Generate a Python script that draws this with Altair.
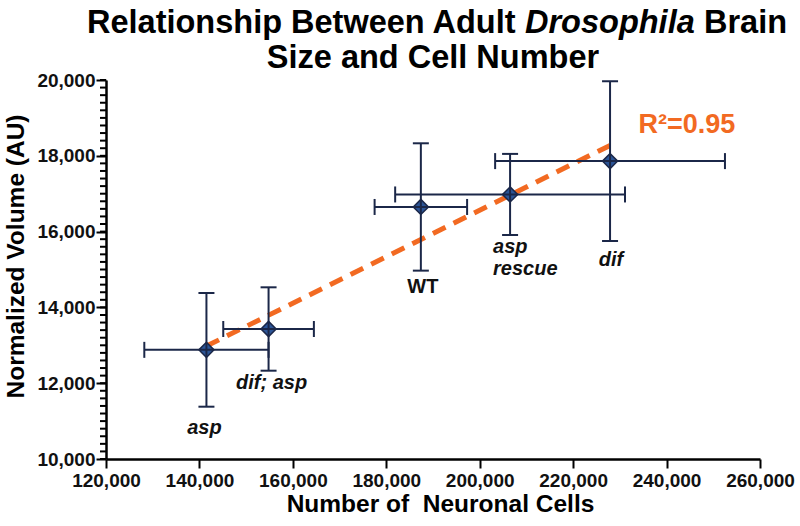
import altair as alt
import pandas as pd

# Genotypes: mean neuronal cell count and normalized brain volume, with error extents
genotypes = ["asp", "dif; asp", "WT", "asp\nrescue", "dif"]
cell_count = [141500, 154800, 187400, 206500, 227900]
cell_err = [13300, 9700, 9900, 24600, 24600]
volume = [12880, 13430, 16650, 16980, 17860]
volume_err = [1500, 1100, 1680, 1070, 2110]

x_ticks = [120000, 140000, 160000, 180000, 200000, 220000, 240000, 260000]
y_ticks = [10000, 12000, 14000, 16000, 18000, 20000]
y_minor_step = 200
r_squared = "R\u00b2=0.95"

FONT = "Liberation Sans"
NAVY = "#1b2748"
FILL = "#2c5597"
ORANGE = "#f26a22"

df = pd.DataFrame({
    "genotype": genotypes,
    "cells": cell_count,
    "cells_lo": [c - e for c, e in zip(cell_count, cell_err)],
    "cells_hi": [c + e for c, e in zip(cell_count, cell_err)],
    "volume": volume,
    "vol_lo": [v - e for v, e in zip(volume, volume_err)],
    "vol_hi": [v + e for v, e in zip(volume, volume_err)],
})
minor_df = pd.DataFrame({"tick": list(range(y_ticks[0], y_ticks[-1] + 1, y_minor_step))})

x_scale = alt.Scale(domain=[120000, 260000], nice=False, zero=False)
y_scale = alt.Scale(domain=[10000, 20000], nice=False, zero=False)

x_axis = alt.Axis(
    values=x_ticks, labelExpr="format(datum.value, ',')",
    title="Number of\u00a0 Neuronal Cells",
    titleX=334, titleY=52, titleAnchor="start", titleAlign="center",
    titleBaseline="alphabetic", tickSize=9, labelPadding=3, labelFlush=False,
    grid=False,
)
y_axis = alt.Axis(
    values=y_ticks, labelExpr="format(datum.value, ',')",
    title="Normalized Volume (AU)", tickSize=10,
    titleX=-90, titleY=176, titleAngle=270, titleAlign="center",
    titleBaseline="middle", labelPadding=1, labelFlush=False, grid=False,
)


# Every layer shares the same scales and axis definitions
def xq(field):
    return alt.X(f"{field}:Q", scale=x_scale, axis=x_axis)


def yq(field):
    return alt.Y(f"{field}:Q", scale=y_scale, axis=y_axis)


base = alt.Chart(df)

# Minor ticks along the volume axis
minor_ticks = alt.Chart(minor_df).mark_tick(
    orient="horizontal", color="#000000", thickness=2, size=6, opacity=1,
).encode(y=yq("tick"), x=alt.value(-3))

# Least-squares fit through the five genotype means
fit = base.mark_line(
    color=ORANGE, strokeWidth=5, strokeDash=[14, 9]
).transform_regression("cells", "volume").encode(x=xq("cells"), y=yq("volume"))

points = base.mark_point(
    shape="diamond", size=230, filled=True, fill=FILL, stroke=NAVY,
    strokeWidth=1.5, opacity=1,
).encode(x=xq("cells"), y=yq("volume"))

h_bars = base.mark_rule(color=NAVY, strokeWidth=2).encode(
    x=xq("cells_lo"), x2="cells_hi:Q", y=yq("volume"),
)
v_bars = base.mark_rule(color=NAVY, strokeWidth=2).encode(
    x=xq("cells"), y=yq("vol_lo"), y2="vol_hi:Q",
)

cap_style = dict(color=NAVY, thickness=2, size=16, opacity=1)
h_caps = [
    base.mark_tick(orient="vertical", **cap_style).encode(x=xq(col), y=yq("volume"))
    for col in ("cells_lo", "cells_hi")
]
v_caps = [
    base.mark_tick(orient="horizontal", **cap_style).encode(x=xq("cells"), y=yq(col))
    for col in ("vol_lo", "vol_hi")
]

# Genotype labels placed beneath each point (pixel offsets, alignment, italic)
label_place = {
    "asp": (-2, 78, "center", True),
    "dif; asp": (3, 54, "center", True),
    "WT": (2, 80, "center", False),
    "asp\nrescue": (-17, 53, "left", True),
    "dif": (1, 99, "center", True),
}
labels = []
for name, (dx, dy, align, italic) in label_place.items():
    labels.append(
        base.transform_filter(alt.datum.genotype == name).mark_text(
            font=FONT, fontSize=20, fontWeight="bold",
            fontStyle="italic" if italic else "normal",
            color="#111111", dx=dx, dy=dy, align=align, baseline="middle",
            lineBreak="\n", lineHeight=22,
        ).encode(x=xq("cells"), y=yq("volume"), text="genotype:N")
    )

r2_label = alt.Chart().mark_text(
    font=FONT, fontSize=27, fontWeight="bold", color=ORANGE,
    align="left", baseline="middle",
).encode(
    x=alt.datum(234000, scale=x_scale, axis=x_axis),
    y=alt.datum(18800, scale=y_scale, axis=y_axis),
    text=alt.value(r_squared),
)

# Two-line title with the genus name in italics
title_style = dict(font=FONT, fontSize=32.5, fontWeight="bold", color="#000000",
                   baseline="alphabetic")
title_parts = [
    ("Relationship Between Adult", -19, -47, "left", "normal"),
    ("Drosophila", 419, -47, "left", "italic"),
    ("Brain", 598, -47, "left", "normal"),
    ("Size and Cell Number", 327, -12, "center", "normal"),
]
title_marks = [
    alt.Chart().mark_text(align=align, fontStyle=style, **title_style).encode(
        x=alt.value(px), y=alt.value(py), text=alt.value(txt))
    for txt, px, py, align, style in title_parts
]

chart = alt.layer(
    minor_ticks, fit, points, h_bars, v_bars, *h_caps, *v_caps, *labels, r2_label,
    *title_marks,
).properties(
    width=654, height=379,
    autosize=alt.AutoSizeParams(type="none"),
    padding={"left": 106, "top": 80, "right": 40, "bottom": 67},
    background="white",
).configure_view(
    stroke=None,
).configure_axis(
    domainColor="#000000", domainWidth=2.5, tickColor="#000000", tickWidth=2,
    labelFont=FONT, labelFontSize=19, labelFontWeight="bold", labelColor="#111111",
    titleFont=FONT, titleFontSize=24.5, titleFontWeight="bold", titleColor="#000000",
)

chart.save("out.html", embed_options={"renderer": "svg", "actions": False})
